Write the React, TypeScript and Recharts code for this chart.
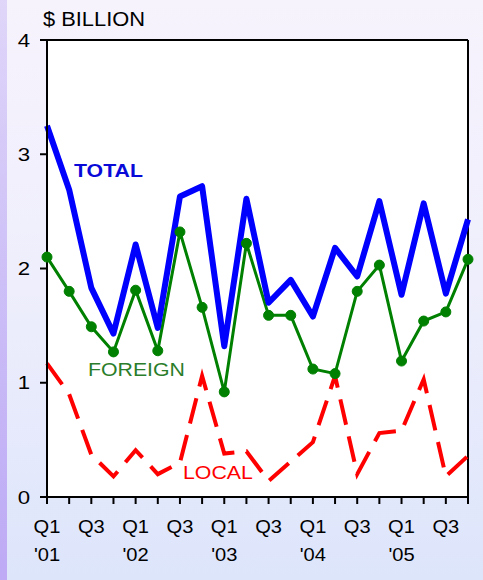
import React from "react";
import {
  LineChart,
  Line,
  XAxis,
  YAxis,
  CartesianGrid,
  ReferenceLine,
} from "recharts";

// ─── Data ─────────────────────────────────────────────────────────────────────

const quarters = [
  "Q1 '01", "Q2 '01", "Q3 '01", "Q4 '01",
  "Q1 '02", "Q2 '02", "Q3 '02", "Q4 '02",
  "Q1 '03", "Q2 '03", "Q3 '03", "Q4 '03",
  "Q1 '04", "Q2 '04", "Q3 '04", "Q4 '04",
  "Q1 '05", "Q2 '05", "Q3 '05", "Q4 '05",
];

const totalValues = [
  3.25, 2.69, 1.83, 1.43, 2.21, 1.48, 2.63, 2.72, 1.32, 2.61,
  1.7, 1.9, 1.58, 2.18, 1.93, 2.59, 1.77, 2.57, 1.78, 2.43,
];

const foreignValues = [
  2.1, 1.8, 1.49, 1.27, 1.81, 1.28, 2.32, 1.66, 0.92, 2.22,
  1.59, 1.59, 1.12, 1.08, 1.8, 2.03, 1.19, 1.54, 1.62, 2.08,
];

const localValues = [
  1.17, 0.9, 0.37, 0.18, 0.41, 0.2, 0.3, 1.06, 0.38, 0.4,
  0.14, 0.31, 0.48, 1.06, 0.2, 0.56, 0.58, 1.03, 0.18, 0.36,
];

const yTicks = [0, 1, 2, 3, 4];

const data = quarters.map((q, i) => ({
  q,
  total: totalValues[i],
  foreign: foreignValues[i],
  local: localValues[i],
}));

const FONT = "'Liberation Sans', Arial, sans-serif";

// ─── Ticks ────────────────────────────────────────────────────────────────────

// only Q1 / Q3 get a label, Q1 also gets the year underneath
function QuarterTick(props: any) {
  const { x, y, payload } = props;
  const [qtr, yr] = String(payload.value).split(" ");
  if (qtr !== "Q1" && qtr !== "Q3") return null;
  return (
    <g transform={`translate(${x},${y}) scale(1.06,1)`}>
      <text x={0} y={27} textAnchor="middle" fill="#000" fontSize={19} fontFamily={FONT}>
        {qtr}
      </text>
      {qtr === "Q1" && (
        <text x={0} y={55} textAnchor="middle" fill="#000" fontSize={19} fontFamily={FONT}>
          {yr}
        </text>
      )}
    </g>
  );
}

function ValueTick(props: any) {
  const { x, y, payload } = props;
  return (
    <g transform={`translate(${x - 8},${y}) scale(1.2,1)`}>
      <text x={0} y={0} dy={6.5} textAnchor="end" fill="#000" fontSize={18.5} fontFamily={FONT}>
        {payload.value}
      </text>
    </g>
  );
}

// ─── App ──────────────────────────────────────────────────────────────────────

export default function App() {
  const labelStyle: React.CSSProperties = {
    position: "absolute",
    fontSize: 19,
    transform: "scaleX(1.12)",
    transformOrigin: "left center",
    whiteSpace: "nowrap",
  };

  return (
    <div
      style={{
        position: "absolute",
        left: 0,
        top: 0,
        width: 483,
        height: 580,
        fontFamily: FONT,
        background:
          "linear-gradient(to bottom, rgba(200,185,245,0.5) 0%, rgba(190,170,245,1) 100%) 0 0 / 7px 100% no-repeat, linear-gradient(to bottom, #f7f3fd 0%, #eeeefc 50%, #dde5fb 100%)",
      }}
    >
      <div style={{ ...labelStyle, left: 43, top: 8, fontSize: 19.5, color: "#000" }}>
        $ BILLION
      </div>

      <LineChart
        width={483}
        height={580}
        data={data}
        margin={{ top: 40, right: 15, left: 0, bottom: 23 }}
      >
        <CartesianGrid fill="#ffffff" horizontal={false} vertical={false} />

        <XAxis
          dataKey="q"
          interval={0}
          tick={<QuarterTick />}
          tickSize={7}
          height={60}
          axisLine={{ stroke: "#000", strokeWidth: 2 }}
          tickLine={{ stroke: "#000", strokeWidth: 2 }}
        />
        <YAxis
          domain={[0, 4]}
          ticks={yTicks}
          width={47}
          tickSize={7}
          tick={<ValueTick />}
          axisLine={{ stroke: "#000", strokeWidth: 2 }}
          tickLine={{ stroke: "#000", strokeWidth: 2 }}
        />

        <ReferenceLine y={4} stroke="#000" strokeWidth={2} />
        <ReferenceLine x={quarters[quarters.length - 1]} stroke="#000" strokeWidth={2} />

        <Line
          dataKey="local"
          stroke="#ff0000"
          strokeWidth={4}
          strokeDasharray="26 12"
          dot={false}
          isAnimationActive={false}
          strokeLinejoin="miter"
        />
        <Line
          dataKey="foreign"
          stroke="#008000"
          strokeWidth={3}
          dot={{ r: 5, fill: "#008000", stroke: "#008000", strokeWidth: 1 }}
          isAnimationActive={false}
        />
        <Line
          dataKey="total"
          stroke="#0000ff"
          strokeWidth={6}
          dot={false}
          isAnimationActive={false}
          strokeLinejoin="round"
        />
      </LineChart>

      <div style={{ ...labelStyle, left: 74, top: 160, fontWeight: "bold", color: "#0a0ad8" }}>
        TOTAL
      </div>
      <div style={{ ...labelStyle, left: 88, top: 359, color: "#2a7d2a" }}>
        FOREIGN
      </div>
      <div style={{ ...labelStyle, left: 183, top: 462, color: "#ff0000" }}>
        LOCAL
      </div>
    </div>
  );
}
